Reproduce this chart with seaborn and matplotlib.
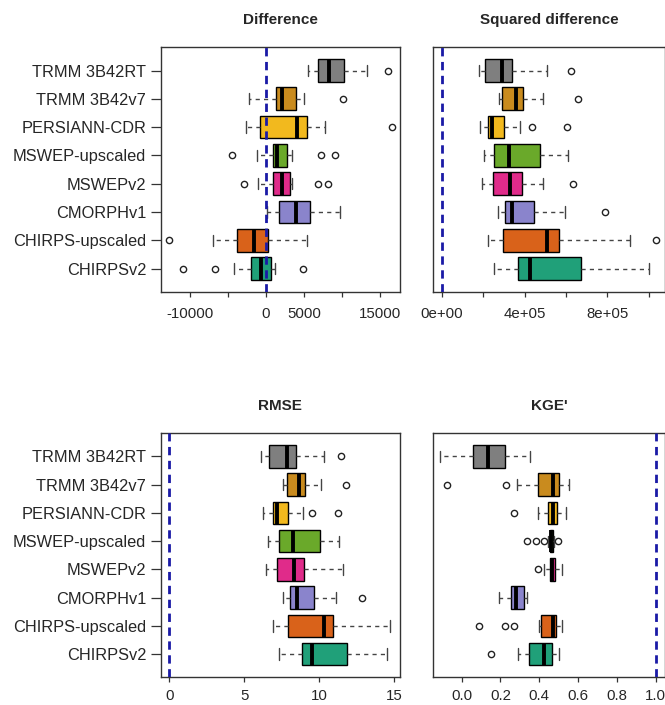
"""
Four-panel box plots comparing precipitation products
(Difference, Squared difference, RMSE, KGE').
Box statistics read off the reference figure.
"""

import pandas as pd
import matplotlib
matplotlib.use("Agg")
import matplotlib.pyplot as plt
import seaborn as sns

# === products (top to bottom) and fill colours ===
products = ["TRMM 3B42RT", "TRMM 3B42v7", "PERSIANN-CDR", "MSWEP-upscaled",
            "MSWEPv2", "CMORPHv1", "CHIRPS-upscaled", "CHIRPSv2"]
colors = ["#7f7f7f", "#c98b1e", "#f2b91e", "#6aa92a",
          "#e02b8a", "#8a84cc", "#d9621a", "#20a079"]

# === Difference ===
diff_lo = [5570, -2190, -2630, -1140, -1010, 100, -7020, -4210]
diff_q1 = [6890, 1320, -790, 880, 880, 1710, -3860, -2020]
diff_med = [8330, 2060, 4030, 1490, 2060, 3900, -1580, -700]
diff_q3 = [10260, 3900, 5350, 2720, 3160, 5790, 310, 610]
diff_hi = [13250, 5040, 7760, 3380, 3470, 9740, 5440, 1180]
diff_out = [[16010], [10180], [16540], [-4520, 7240, 9080],
            [-2900, 6890, 8200], [], [-12720], [-10970, -6710, 4830]]

# === Squared difference ===
sq_lo = [182e3, 274e3, 185e3, 206e3, 193e3, 270e3, 225e3, 253e3]
sq_q1 = [209e3, 293e3, 225e3, 253e3, 245e3, 306e3, 296e3, 367e3]
sq_med = [293e3, 357e3, 242e3, 327e3, 330e3, 338e3, 507e3, 427e3]
sq_q3 = [338e3, 391e3, 301e3, 475e3, 386e3, 446e3, 567e3, 671e3]
sq_hi = [507e3, 488e3, 378e3, 612e3, 488e3, 593e3, 907e3, 1000e3]
sq_out = [[625e3], [660e3], [435e3, 604e3], [], [636e3], [789e3], [1035e3], []]

# === RMSE ===
rmse_lo = [6.11, 7.60, 6.22, 6.60, 6.44, 7.56, 6.89, 7.31]
rmse_q1 = [6.64, 7.87, 6.91, 7.33, 7.20, 8.04, 7.91, 8.82]
rmse_med = [7.87, 8.67, 7.16, 8.27, 8.33, 8.49, 10.33, 9.49]
rmse_q3 = [8.42, 9.04, 7.93, 10.04, 9.00, 9.67, 10.89, 11.87]
rmse_hi = [10.33, 10.11, 8.93, 11.31, 11.56, 11.11, 14.71, 14.49]
rmse_out = [[11.42], [11.76], [9.53, 11.27], [], [], [12.87], [], []]

# === KGE' ===
kge_lo = [-0.111, 0.286, 0.395, 0.445, 0.424, 0.192, 0.400, 0.292]
kge_q1 = [0.060, 0.395, 0.443, 0.453, 0.454, 0.254, 0.407, 0.348]
kge_med = [0.137, 0.472, 0.468, 0.460, 0.466, 0.280, 0.468, 0.424]
kge_q3 = [0.223, 0.503, 0.492, 0.468, 0.482, 0.322, 0.484, 0.463]
kge_hi = [0.352, 0.554, 0.540, 0.475, 0.518, 0.334, 0.518, 0.503]
kge_out = [[], [-0.074, 0.228], [0.271], [0.335, 0.381, 0.425, 0.495],
           [0.394], [], [0.091, 0.223, 0.269], [0.151]]


def sample(lo, q1, med, q3, hi, out):
    # n = 4L+1 values whose linear quartiles are exactly q1/med/q3
    low = [v for v in out if v < q1] + [lo]
    high = [hi] + [v for v in out if v > q3]
    n = max(len(low), len(high))
    low += [lo] * (n - len(low))
    high += [hi] * (n - len(high))
    return low + [q1] * n + [med] + [q3] * n + high


def long_table(lo, q1, med, q3, hi, out):
    rows = []
    for i, p in enumerate(products):
        for v in sample(lo[i], q1[i], med[i], q3[i], hi[i], out[i]):
            rows.append((p, v))
    return pd.DataFrame(rows, columns=["product", "value"])


panels = [
    ("Difference", long_table(diff_lo, diff_q1, diff_med, diff_q3, diff_hi, diff_out),
     0, (-13855, 17632), [-10000, -5000, 0, 5000, 10000, 15000],
     ["-10000", "", "0", "5000", "", "15000"]),
    ("Squared difference", long_table(sq_lo, sq_q1, sq_med, sq_q3, sq_hi, sq_out),
     0, (-41000, 1.077e6), [0, 2e5, 4e5, 6e5, 8e5, 1e6],
     ["0e+00", "", "4e+05", "", "8e+05", ""]),
    ("RMSE", long_table(rmse_lo, rmse_q1, rmse_med, rmse_q3, rmse_hi, rmse_out),
     0, (-0.578, 15.38), [0, 5, 10, 15], ["0", "5", "10", "15"]),
    ("KGE'", long_table(kge_lo, kge_q1, kge_med, kge_q3, kge_hi, kge_out),
     1, (-0.146, 1.046), [0, 0.2, 0.4, 0.6, 0.8, 1.0],
     ["0.0", "0.2", "0.4", "0.6", "0.8", "1.0"]),
]

# === plot ===
sns.set_style("ticks")
plt.rcParams["font.family"] = ["Liberation Sans", "DejaVu Sans"]

fig = plt.figure(figsize=(6.65, 7.05), dpi=100)
positions = [
    [0.2417, 0.5862, 0.3599, 0.3467],
    [0.6516, 0.5862, 0.3480, 0.3467],
    [0.2417, 0.0393, 0.3599, 0.3461],
    [0.6516, 0.0393, 0.3480, 0.3461],
]

for k, (title, d, ref, xlim, ticks, labels) in enumerate(panels):
    ax = fig.add_axes(positions[k])
    sns.boxplot(
        data=d, x="value", y="product", hue="product",
        order=products, hue_order=products, palette=colors,
        orient="h", width=0.8, whis=1.5, saturation=1,
        linecolor="black", linewidth=1.0, legend=False, ax=ax,
        flierprops=dict(marker="o", markerfacecolor="none",
                        markeredgecolor="#222222", markersize=4.5,
                        markeredgewidth=1.0),
        medianprops=dict(color="black", linewidth=2.8),
        whiskerprops=dict(color="#444444", linestyle=(0, (3, 3)), linewidth=1.0),
        capprops=dict(color="#444444", linewidth=1.0),
    )
    ax.axvline(ref, color="#1a1aa6", lw=2, ls=(0, (3, 2)), zorder=6)
    ax.set_xlim(*xlim)
    ax.set_ylim(7.82, -0.82)
    ax.set_xticks(ticks)
    ax.set_xticklabels(labels, fontsize=10.8)
    ax.set_xlabel("")
    ax.set_ylabel("")
    ax.set_title(title, fontsize=11, fontweight="bold", pad=17)
    # bottom row labels sit right at the lower edge; keep them inside
    xpad = 8 if k < 2 else 5
    ax.tick_params(axis="x", length=3.3, width=0.9, pad=xpad, color="#333333")
    if k % 2 == 0:
        ax.tick_params(axis="y", length=7, width=0.9, pad=3.5,
                       labelsize=11.8, color="#333333")
    else:
        ax.tick_params(axis="y", left=False, labelleft=False)
    for s in ax.spines.values():
        s.set_visible(True)
        s.set_color("#333333")
        s.set_linewidth(1.0)

plt.savefig("out.png", dpi=100)
